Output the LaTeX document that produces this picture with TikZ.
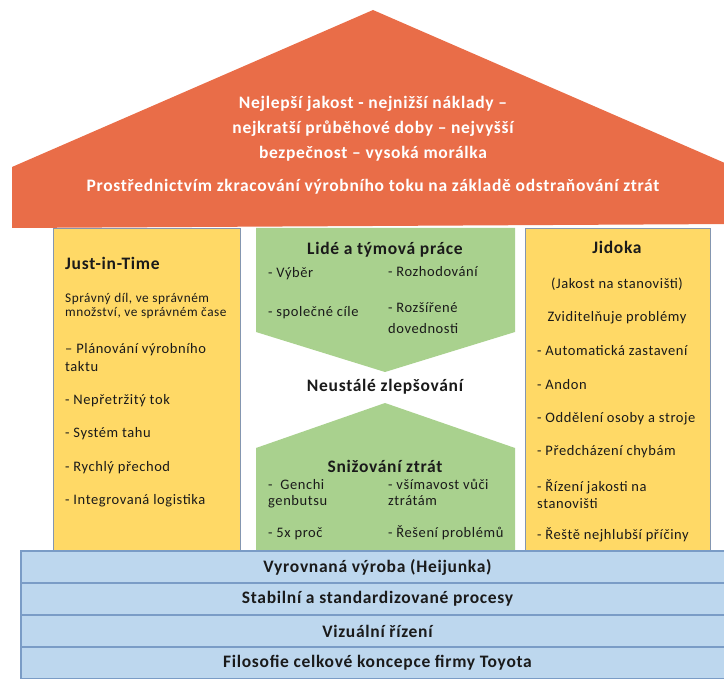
\documentclass[tikz,border=0pt]{standalone}
\usepackage{fontspec}
\setmainfont{Carlito}[LetterSpace=4]
\definecolor{roofred}{HTML}{E96D48}
\definecolor{pillarfill}{HTML}{FFD966}
\definecolor{teamfill}{HTML}{A9D18E}
\definecolor{basefill}{HTML}{BDD7EE}
\definecolor{baseedge}{HTML}{7A9CC6}
\definecolor{pillaredge}{HTML}{8496B0}
\definecolor{ink}{HTML}{1A1A1A}
\begin{document}
\begin{tikzpicture}[x=1pt,y=-1pt,
  pillarbox/.style={draw=pillaredge, line width=1pt, fill=pillarfill, inner sep=0pt, anchor=north west},
  basebar/.style={draw=baseedge, line width=1.2pt, fill=basefill, inner sep=0pt,
    minimum width=713pt, minimum height=32pt, text=ink,
    font=\fontsize{17.5}{20}\selectfont\bfseries},
  rooftext/.style={text=white, inner sep=0pt, font=\fontsize{17.5}{25}\selectfont\bfseries, align=center},
  heading/.style={text=ink, inner sep=0pt, font=\fontsize{17.5}{20}\selectfont\bfseries},
  item/.style={text=ink, inner sep=0pt, anchor=west, align=left, font=\fontsize{14.5}{17}\selectfont},
  smallitem/.style={text=ink, inner sep=0pt, anchor=west, align=left, font=\fontsize{13.3}{14}\selectfont},
  centered/.style={text=ink, inner sep=0pt, font=\fontsize{14.5}{17}\selectfont}]
\useasboundingbox (0,0) rectangle (724,679);

% roof
\fill[roofred] (12,228) -- (12,167) -- (373,10) -- (734,167) -- (734,224) -- cycle;
\node[rooftext] (goal) at (373,129) {Nejlepší jakost - nejnižší náklady –\\nejkratší průběhové doby – nejvyšší\\bezpečnost – vysoká morálka};
\node[rooftext] (means) at (373,187) {Prostřednictvím zkracování výrobního toku na základě odstraňování ztrát};

% pillars
\node[pillarbox, minimum width=187pt, minimum height=322pt] (jit) at (53,228) {};
\node[pillarbox, minimum width=185pt, minimum height=322pt] (jidoka) at (525,228) {};

% centre: people and waste reduction
\fill[teamfill] (256,228) -- (515,228) -- (515,332) -- (385,372) -- (256,332) -- cycle;
\fill[teamfill] (256,551) -- (256,448) -- (385,403) -- (515,448) -- (515,551) -- cycle;

% foundation
\node[basebar] (heijunka) at (377.5,567) {Vyrovnaná výroba (Heijunka)};
\node[basebar] (stable) at (377.5,599) {Stabilní a standardizované procesy};
\node[basebar] (visual) at (377.5,631) {Vizuální řízení};
\node[basebar] (philosophy) at (377.5,663) {Filosofie celkové koncepce firmy Toyota};

% Just-in-Time
\node[heading, anchor=west] (jittitle) at (65,263) {Just-in-Time};
\node[smallitem] (jitdef) at (65,306) {Správný díl, ve správném\\množství, ve správném čase};
\node[item, font=\fontsize{14.5}{18}\selectfont] (takt) at (65,358) {– Plánování výrobního\\taktu};
\node[item] (flow) at (65,401) {- Nepřetržitý tok};
\node[item] (pull) at (65,434) {- Systém tahu};
\node[item] (smed) at (65,468) {- Rychlý přechod};
\node[item] (logistics) at (65,501) {- Integrovaná logistika};

% people and teamwork
\node[heading] (people) at (385,250) {Lidé a týmová práce};
\node[item] (select) at (268,274) {- Výběr};
\node[item] (decide) at (388,272) {- Rozhodování};
\node[item] (goals) at (268,313) {- společné cíle};
\node[item, font=\fontsize{14.5}{21}\selectfont] (skills) at (388,318.5) {- Rozšířené\\dovednosti};

\node[heading] (kaizen) at (385,387) {Neustálé zlepšování};

% waste reduction
\node[heading] (waste) at (385,466) {Snižování ztrát};
\node[item, font=\fontsize{14.5}{16}\selectfont] (genchi) at (268,494) {-\ \ Genchi\\genbutsu};
\node[item, font=\fontsize{14.5}{16}\selectfont] (aware) at (388,492) {- všímavost vůči\\ztrátám};
\node[item] (why) at (268,534) {- 5x proč};
\node[item] (solve) at (388,533) {- Řešení problémů};

% Jidoka
\node[heading] (jidokatitle) at (617,247) {Jidoka};
\node[centered] (inplace) at (617,284) {(Jakost na stanovišti)};
\node[centered] (visible) at (617,318) {Zviditelňuje problémy};
\node[item] (autostop) at (537,351) {- Automatická zastavení};
\node[item] (andon) at (537,385) {- Andon};
\node[item] (separate) at (537,419) {- Oddělení osoby a stroje};
\node[item] (pokayoke) at (537,452) {- Předcházení chybám};
\node[item] (qc) at (537,494.5) {- Řízení jakosti na\\stanovišti};
\node[item] (rootcause) at (537,535) {- Řeště nejhlubší příčiny};
\end{tikzpicture}
\end{document}
